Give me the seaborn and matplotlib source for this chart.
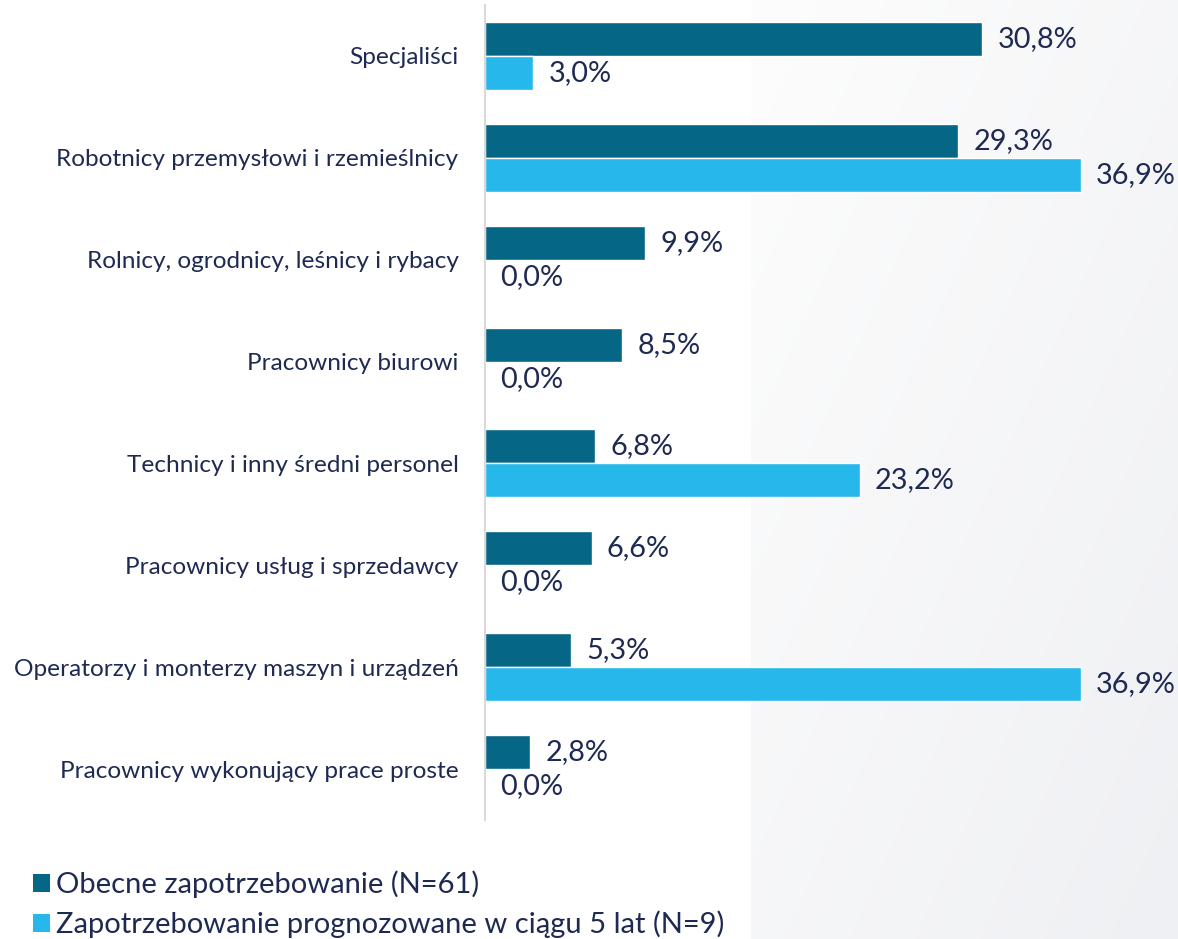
import numpy as np
import pandas as pd
import matplotlib
matplotlib.use("Agg")
import matplotlib.pyplot as plt
import seaborn as sns
from matplotlib.patches import Patch

categories = [
    "Specjaliści",
    "Robotnicy przemysłowi i rzemieślnicy",
    "Rolnicy, ogrodnicy, leśnicy i rybacy",
    "Pracownicy biurowi",
    "Technicy i inny średni personel",
    "Pracownicy usług i sprzedawcy",
    "Operatorzy i monterzy maszyn i urządzeń",
    "Pracownicy wykonujący prace proste",
]
current_demand = [30.8, 29.3, 9.9, 8.5, 6.8, 6.6, 5.3, 2.8]
forecast_demand = [3.0, 36.9, 0.0, 0.0, 23.2, 0.0, 36.9, 0.0]
series_names = ["Obecne zapotrzebowanie (N=61)",
                "Zapotrzebowanie prognozowane w ciągu 5 lat (N=9)"]
colors = ["#066686", "#26B8EB"]
text_color = "#1F2A52"

df = pd.DataFrame({
    "category": categories * 2,
    "value": current_demand + forecast_demand,
    "series": [series_names[0]] * len(categories) + [series_names[1]] * len(categories),
})

sns.set_theme(style="white")
plt.rcParams["font.family"] = ["Lato", "DejaVu Sans"]

W, H = 1178, 939
fig = plt.figure(figsize=(W / 100, H / 100), dpi=100)

# background gradient panel on the right
bg = fig.add_axes([751 / W, 0, 1 - 751 / W, 1], zorder=-10)
yy, xx = np.mgrid[0:1:200j, 0:1:200j]
grad = 0.5 * xx + 0.5 * yy
bg.imshow(grad, cmap=matplotlib.colors.LinearSegmentedColormap.from_list(
    "g", ["#FDFDFD", "#EFF0F3"]), aspect="auto", extent=[0, 1, 0, 1], origin="upper")
bg.axis("off")

ax = fig.add_axes([485 / W, 1 - 820 / H, (W - 485) / W, 815 / H])
ax.patch.set_alpha(0)
sns.barplot(data=df, y="category", x="value", hue="series", order=categories,
            hue_order=series_names, palette=colors, width=0.667, orient="h",
            ax=ax, legend=False, saturation=1)
ax.set_xlim(0, (W - 485) / 16.15)
ax.set_ylim(7.5, -0.5)
ax.set_xlabel("")
ax.set_ylabel("")
ax.set_xticks([])
for s in ["top", "right", "bottom"]:
    ax.spines[s].set_visible(False)
ax.spines["left"].set_color("#D9D9D9")
ax.spines["left"].set_linewidth(1.5)
ax.tick_params(axis="y", length=0, pad=19, labelsize=17.6, labelcolor=text_color)

for container in ax.containers:
    labels = [f"{v:.1f}%".replace(".", ",") for v in container.datavalues]
    ax.bar_label(container, labels=labels, padding=11, fontsize=20.8, color=text_color)

handles = [Patch(facecolor=c, edgecolor="none") for c in colors]
fig.legend(handles, series_names, loc="upper left", bbox_to_anchor=(21 / W, 1 - 859 / H),
           frameon=False, fontsize=21, labelcolor=text_color, handlelength=0.6,
           handleheight=0.6, handletextpad=0.2, labelspacing=0.42, borderaxespad=0)

fig.savefig("out.png", dpi=100)
